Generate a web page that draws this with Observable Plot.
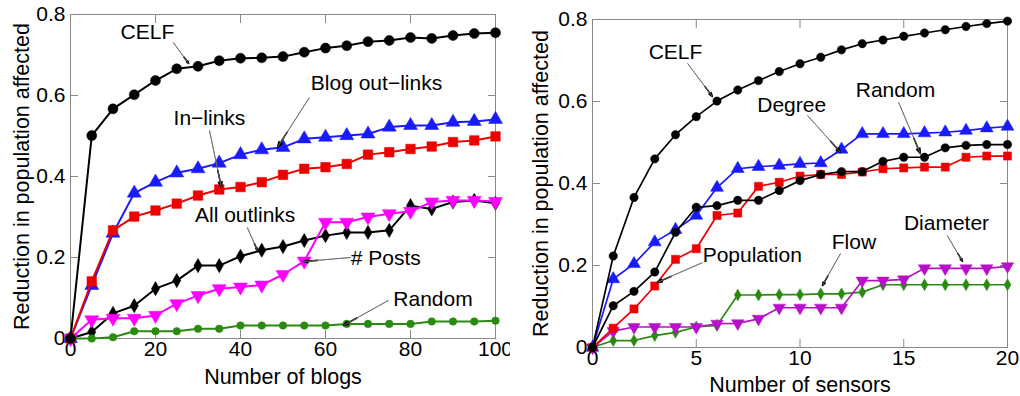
<!DOCTYPE html>
<html>
<head>
<meta charset="utf-8">
<script src="https://cdn.jsdelivr.net/npm/d3@7"></script>
<script src="https://cdn.jsdelivr.net/npm/@observablehq/plot@0.6"></script>
<style>
  html, body { margin: 0; padding: 0; background: #fff; }
  #wrap { display: flex; width: 1020px; height: 396px; }
  svg { font-family: "Liberation Sans", Arial, sans-serif; }
</style>
</head>
<body>
<div id="wrap"></div>
<script>
// ---------- Left panel: blogs ----------
const xBlogs = [0,5,10,15,20,25,30,35,40,45,50,55,60,65,70,75,80,85,90,95,100];
const celfBlogs   = [0,0.501,0.567,0.602,0.637,0.666,0.672,0.686,0.692,0.693,0.696,0.707,0.717,0.723,0.733,0.736,0.743,0.741,0.748,0.753,0.755];
const outLinks    = [0,0.131,0.26,0.359,0.386,0.409,0.419,0.433,0.454,0.466,0.472,0.493,0.497,0.501,0.505,0.522,0.526,0.526,0.534,0.536,0.541];
const inLinks     = [0,0.141,0.267,0.301,0.316,0.333,0.353,0.368,0.374,0.386,0.404,0.419,0.423,0.431,0.454,0.46,0.468,0.474,0.485,0.489,0.499];
const allOutlinks = [0,0.016,0.062,0.081,0.123,0.143,0.18,0.18,0.203,0.218,0.227,0.242,0.254,0.262,0.262,0.267,0.328,0.32,0.337,0.341,0.334];
const numPosts    = [0,0.046,0.05,0.05,0.057,0.086,0.106,0.123,0.127,0.132,0.158,0.191,0.287,0.287,0.3,0.308,0.314,0.337,0.341,0.341,0.338];
const randomBlogs = [0,0,0.003,0.018,0.018,0.018,0.024,0.024,0.032,0.032,0.032,0.032,0.032,0.036,0.036,0.036,0.036,0.042,0.042,0.042,0.044];
const xTicksBlogs = [0,20,40,60,80,100];

// ---------- Right panel: sensors ----------
const xSensors = [0,1,2,3,4,5,6,7,8,9,10,11,12,13,14,15,16,17,18,19,20];
const celfSensors   = [0,0.223,0.366,0.46,0.519,0.563,0.601,0.628,0.651,0.673,0.692,0.708,0.726,0.741,0.75,0.759,0.767,0.775,0.783,0.79,0.796];
const degree        = [0,0.167,0.204,0.257,0.287,0.322,0.39,0.436,0.441,0.444,0.448,0.45,0.483,0.521,0.521,0.521,0.523,0.525,0.529,0.535,0.539];
const randomSensors = [0,0.102,0.137,0.184,0.281,0.342,0.346,0.359,0.359,0.383,0.407,0.422,0.429,0.429,0.454,0.464,0.464,0.487,0.493,0.495,0.495];
const population    = [0,0.047,0.094,0.15,0.215,0.241,0.322,0.328,0.393,0.403,0.418,0.422,0.422,0.428,0.436,0.438,0.44,0.44,0.464,0.467,0.467];
const flow          = [0,0.017,0.017,0.029,0.037,0.05,0.054,0.128,0.128,0.129,0.129,0.131,0.131,0.135,0.153,0.153,0.153,0.153,0.153,0.153,0.153];
const diameter      = [0,0.04,0.05,0.05,0.05,0.05,0.058,0.059,0.07,0.097,0.097,0.097,0.097,0.163,0.163,0.166,0.193,0.193,0.193,0.193,0.198];
const xTicksSensors = [0,5,10,15,20];

const yTicks = [0,0.2,0.4,0.6,0.8];

// annotations (label, text position, arrow from -> to), in data units
const notesBlogs = [
  {label: "CELF",           tx: 18.1, ty: 0.756, x1: 24.2, y1: 0.731, x2: 27.8, y2: 0.679},
  {label: "In\u2212links",  tx: 32.7, ty: 0.543, x1: 32.7, y1: 0.514, x2: 35.5, y2: 0.373},
  {label: "Blog out\u2212links", tx: 72, ty: 0.63, x1: 56.2, y1: 0.595, x2: 48.7, y2: 0.472},
  {label: "All outlinks",   tx: 41.1, ty: 0.304, x1: 41.6, y1: 0.274, x2: 44, y2: 0.217},
  {label: "# Posts",        tx: 74.2, ty: 0.198, x1: 65.9, y1: 0.2, x2: 54.8, y2: 0.19},
  {label: "Random",         tx: 85.3, ty: 0.096, x1: 74.8, y1: 0.094, x2: 64.2, y2: 0.032}
];
const notesSensors = [
  {label: "CELF",       tx: 4.0,  ty: 0.72,  x1: 4.58,  y1: 0.693, x2: 5.78,  y2: 0.612},
  {label: "Degree",     tx: 9.6,  ty: 0.59,  x1: 10.36, y1: 0.566, x2: 11.95, y2: 0.476},
  {label: "Random",     tx: 14.6, ty: 0.627, x1: 14.75, y1: 0.598, x2: 15.8,  y2: 0.473},
  {label: "Population", tx: 7.7,  ty: 0.224, x1: 5.3,   y1: 0.207, x2: 3.13,  y2: 0.159},
  {label: "Flow",       tx: 12.6, ty: 0.256, x1: 11.95, y1: 0.229, x2: 11.08, y2: 0.151},
  {label: "Diameter",   tx: 17.06,ty: 0.302, x1: 17.1,  y1: 0.273, x2: 17.83, y2: 0.21}
];

const leftSeries = [
  {name: "Blog out-links", xs: xBlogs, ys: outLinks, color: "#1a1aff", symbol: "triangle", rotate: 0, r: 5.2},
  {name: "In-links", xs: xBlogs, ys: inLinks, color: "#ee0000", symbol: "square", rotate: 0, r: 5.4},
  {name: "All outlinks", xs: xBlogs, ys: allOutlinks, color: "#000000", symbol: "diamond", rotate: 0, r: 4.3},
  {name: "# Posts", xs: xBlogs, ys: numPosts, color: "#ff00ff", symbol: "triangle", rotate: 180, r: 5.2},
  {name: "Random", xs: xBlogs, ys: randomBlogs, color: "#2a8a10", symbol: "circle", rotate: 0, r: 3.8},
  {name: "CELF", xs: xBlogs, ys: celfBlogs, color: "#000000", symbol: "circle", rotate: 0, r: 5}
];
const rightSeries = [
  {name: "Flow", xs: xSensors, ys: flow, color: "#2a8a10", symbol: "diamond", rotate: 0, r: 3.6},
  {name: "Diameter", xs: xSensors, ys: diameter, color: "#b810c8", symbol: "triangle", rotate: 180, r: 4.6},
  {name: "Degree", xs: xSensors, ys: degree, color: "#1a1aff", symbol: "triangle", rotate: 0, r: 4.8},
  {name: "Population", xs: xSensors, ys: population, color: "#ee0000", symbol: "square", rotate: 0, r: 4.6},
  {name: "Random", xs: xSensors, ys: randomSensors, color: "#000000", symbol: "circle", rotate: 0, r: 4.2},
  {name: "CELF", xs: xSensors, ys: celfSensors, color: "#000000", symbol: "circle", rotate: 0, r: 4.2}
];

function panel(cfg) {
  const marks = [
    Plot.frame({stroke: "#888", strokeWidth: 1}),
    Plot.axisX(cfg.xTicks, {anchor: "bottom", tickSize: 0, tickPadding: 3, fontSize: 21, label: null}),
    Plot.axisX(cfg.xTicks, {anchor: "bottom", tickSize: -8, tickFormat: () => "", stroke: "#888", label: null}),
    Plot.axisX(cfg.xTicks, {anchor: "top", tickSize: -8, tickFormat: () => "", stroke: "#888", label: null}),
    Plot.axisY(yTicks, {anchor: "left", tickSize: 0, tickPadding: 5, fontSize: 21, tickFormat: d3.format("~g"), label: null}),
    Plot.axisY(yTicks, {anchor: "left", tickSize: -8, tickFormat: () => "", stroke: "#888", label: null}),
    Plot.axisY(yTicks, {anchor: "right", tickSize: -8, tickFormat: () => "", stroke: "#888", label: null}),
    Plot.text([cfg.xLabel], {frameAnchor: "bottom", textAnchor: "middle", lineAnchor: "middle", dy: cfg.xLabelDy, fontSize: 21.5, fill: "black"}),
    Plot.text(["Reduction in population affected"], {frameAnchor: "left", textAnchor: "middle", lineAnchor: "middle", dx: cfg.yLabelDx, rotate: -90, fontSize: 21.5, fill: "black"})
  ];
  for (const s of cfg.series) {
    const rows = s.xs.map((x, i) => ({x, y: s.ys[i]}));
    marks.push(Plot.line(rows, {x: "x", y: "y", stroke: s.color, strokeWidth: cfg.lineWidth}));
    marks.push(Plot.dot(rows, {x: "x", y: "y", symbol: () => s.symbol, fill: s.color, stroke: s.color, strokeWidth: 0.5, r: s.r, rotate: s.rotate}));
  }
  // thin gray shaft
  marks.push(Plot.link(cfg.notes, {x1: "x1", y1: "y1", x2: "x2", y2: "y2", stroke: "#555", strokeWidth: 0.8}));
  // solid dark head near the end
  const heads = cfg.notes.map(d => ({hx1: d.x2 - 0.3 * (d.x2 - d.x1), hy1: d.y2 - 0.3 * (d.y2 - d.y1), x2: d.x2, y2: d.y2}));
  marks.push(Plot.arrow(heads, {x1: "hx1", y1: "hy1", x2: "x2", y2: "y2", stroke: "#000", strokeWidth: 1.6, headLength: 8, headAngle: 36, bend: 0, insetStart: 0, insetEnd: 0, strokeOpacity: 1}));
  marks.push(Plot.link(cfg.notes, {x1: "x1", y1: "y1", x2: "x2", y2: "y2", stroke: "#777", strokeWidth: 0.8}));
  marks.push(Plot.text(cfg.notes, {x: "tx", y: "ty", text: "label", fontSize: 21, fill: "black"}));
  return Plot.plot({
    width: 510, height: 396,
    marginLeft: cfg.mL, marginRight: cfg.mR, marginTop: cfg.mT, marginBottom: cfg.mB,
    x: {domain: cfg.xDomain, axis: null},
    y: {domain: [0, 0.8], axis: null},
    symbol: {type: "identity"},
    style: {fontFamily: "'Liberation Sans', Arial, sans-serif", fontSize: "20px", color: "black", background: "white", overflow: "visible"},
    marks
  });
}

const wrap = document.getElementById("wrap");
wrap.appendChild(panel({
  mL: 70, mR: 15, mT: 14, mB: 58, xDomain: [0, 100], xTicks: xTicksBlogs,
  xLabel: "Number of blogs", xLabelDy: 39, yLabelDx: -48, lineWidth: 2,
  series: leftSeries, notes: notesBlogs
}));
wrap.appendChild(panel({
  mL: 82, mR: 13, mT: 19, mB: 49, xDomain: [0, 20], xTicks: xTicksSensors,
  xLabel: "Number of sensors", xLabelDy: 38, yLabelDx: -51, lineWidth: 1.7,
  series: rightSeries, notes: notesSensors
}));
</script>
</body>
</html>
